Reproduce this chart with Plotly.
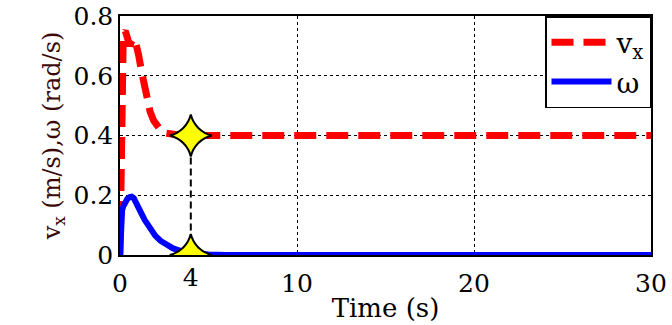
import plotly.graph_objects as go

# Data
t_vx = [0, 0.04, 0.08, 0.12, 0.18, 0.24, 0.3, 0.38, 0.46, 0.55, 0.65, 0.75, 0.85, 0.95, 1.05, 1.2, 1.35, 1.5, 1.7, 1.9, 2.1, 2.3, 2.6, 3.0, 3.5, 4.0, 6, 10, 15, 20, 25, 30]
vx = [0, 0.25, 0.5, 0.64, 0.72, 0.745, 0.75, 0.735, 0.71, 0.70, 0.715, 0.725, 0.72, 0.70, 0.67, 0.62, 0.57, 0.53, 0.48, 0.45, 0.43, 0.418, 0.408, 0.402, 0.40, 0.40, 0.40, 0.40, 0.40, 0.40, 0.40, 0.40]
t_w = [0, 0.02, 0.06, 0.12, 0.2, 0.3, 0.42, 0.55, 0.66, 0.78, 0.9, 1.05, 1.2, 1.4, 1.6, 1.8, 2.0, 2.3, 2.6, 3.0, 3.5, 4.0, 4.5, 5.0, 6, 10, 20, 30]
omega = [0, 0.08, 0.13, 0.15, 0.165, 0.178, 0.188, 0.194, 0.195, 0.19, 0.178, 0.16, 0.14, 0.117, 0.097, 0.079, 0.064, 0.047, 0.034, 0.022, 0.012, 0.007, 0.004, 0.002, 0, 0, 0, 0]
settle_t = [4, 4]
settle_v = [0.4, 0.0]
x_ticks = [0, 10, 20, 30]
x_extra_ticks = [4]
y_ticks = [0, 0.2, 0.4, 0.6, 0.8]
y_labels = ["0", "0.2", "0.4", "0.6", "0.8"]

FONT = "DejaVu Serif"

fig = go.Figure()
fig.add_trace(go.Scatter(x=settle_t, y=settle_v, mode="lines",
                         line=dict(color="black", width=2, dash="7px,4px"),
                         showlegend=False, hoverinfo="skip"))
fig.add_trace(go.Scatter(x=t_vx, y=vx, mode="lines", name="v<sub>x</sub>",
                         line=dict(color="#ff0000", width=7, dash="22px,10px")))
fig.add_trace(go.Scatter(x=t_w, y=omega, mode="lines", name="ω",
                         line=dict(color="#0000ff", width=6)))
fig.add_trace(go.Scatter(x=settle_t, y=settle_v, mode="markers",
                         marker=dict(symbol="star-diamond", size=30, color="#ffff00",
                                     line=dict(color="black", width=2)),
                         showlegend=False, hoverinfo="skip"))
fig.add_trace(go.Scatter(x=x_extra_ticks, y=[None], xaxis="x2", mode="markers",
                         showlegend=False, hoverinfo="skip"))

fig.update_layout(
    width=672, height=325,
    margin=dict(l=120, r=21, t=16, b=70, autoexpand=False),
    paper_bgcolor="white", plot_bgcolor="white",
    font=dict(family=FONT, size=25, color="black"),
    showlegend=True,
    legend=dict(x=1, y=1, xanchor="right", yanchor="top",
                bordercolor="black", borderwidth=1.5, bgcolor="white",
                font=dict(family=FONT, size=28), itemwidth=60,
                tracegroupgap=0),
    xaxis=dict(range=[0, 30], tickvals=x_ticks, ticktext=[str(v) for v in x_ticks],
               showgrid=True, gridcolor="black", griddash="dot", gridwidth=1,
               showline=True, linecolor="black", linewidth=1.5, mirror=True,
               zeroline=False, ticks="", tickfont=dict(family=FONT, size=25),
               ticklabelstandoff=5, automargin=False,
               title=dict(text="Time (s)", font=dict(family=FONT, size=26), standoff=2)),
    xaxis2=dict(range=[0, 30], overlaying="x", side="bottom", anchor="y",
                tickvals=x_extra_ticks, ticktext=[str(v) for v in x_extra_ticks],
                showgrid=False, zeroline=False, showline=False, ticks="",
                ticklabelstandoff=5, automargin=False,
                tickfont=dict(family=FONT, size=25)),
    yaxis=dict(range=[0, 0.8], tickvals=y_ticks, ticktext=y_labels,
               showgrid=True, gridcolor="black", griddash="dot", gridwidth=1,
               showline=True, linecolor="black", linewidth=1.5, mirror=True,
               zeroline=False, ticks="", tickfont=dict(family=FONT, size=25),
               automargin=False,
               title=dict(text="v<sub>x</sub> (m/s),ω (rad/s)",
                          font=dict(family=FONT, size=24, color="#3a0808"), standoff=6)),
)

fig.write_html("out.html")
